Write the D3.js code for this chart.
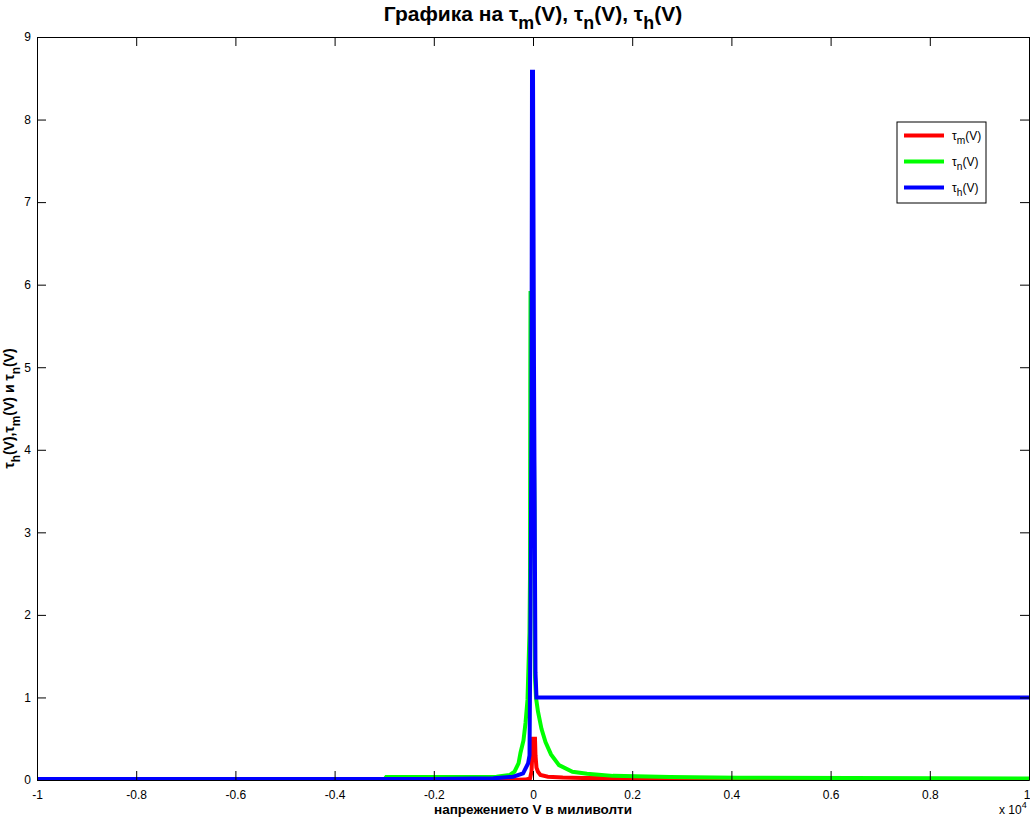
<!DOCTYPE html>
<html>
<head>
<meta charset="utf-8">
<script src="https://cdn.jsdelivr.net/npm/d3@7/dist/d3.min.js"></script>
<style>
  body { margin: 0; background: #fff; }
  svg { display: block; font-family: "Liberation Sans", Arial, sans-serif; }
  .tick text { font-size: 12px; fill: #000; }
</style>
</head>
<body>
<svg width="1030" height="821"></svg>
<script>
// voltage in mV, tau values
let tauM = [
  [-10000, 0], [-500, 0], [-150, 0.005], [-60, 0.02], [-30, 0.1], [-15, 0.3],
  [0, 0.5], [40, 0.5], [50, 0.3], [70, 0.15], [100, 0.1], [150, 0.06],
  [300, 0.04], [600, 0.03], [1000, 0.025], [2000, 0.02], [3300, 0.015], [10000, 0.005]
];
let tauN = [
  [-10000, 0], [-3000, 0], [-2960, 0.035], [-1500, 0.035], [-736, 0.04], [-474, 0.06],
  [-373, 0.1], [-292, 0.2], [-252, 0.33], [-192, 0.48], [-151, 0.69], [-111, 0.97],
  [-91, 1.37], [-71, 1.78], [-60, 2.5], [-55, 4.7], [-50, 5.9], [-35, 5.9],
  [0, 5.0], [20, 3.9], [30, 3.3], [35, 1.8], [40, 1.25], [60, 1.0], [100, 0.83],
  [171, 0.62], [252, 0.46], [363, 0.31], [524, 0.18], [796, 0.1], [1089, 0.075],
  [1613, 0.05], [2762, 0.035], [4133, 0.028], [8200, 0.02], [10000, 0.018]
];
let tauH = [
  [-10000, 0.012], [-2000, 0.012], [-800, 0.02], [-400, 0.04], [-200, 0.08],
  [-100, 0.2], [-70, 0.3], [-50, 2.0], [-30, 4.5], [-20, 8.58], [0, 8.58],
  [20, 5.0], [40, 2.5], [50, 1.3], [70, 1.0], [10000, 1.0]
];
let series = [
  { name: 'm', color: '#ff0000', values: tauM },
  { name: 'n', color: '#00ff00', values: tauN },
  { name: 'h', color: '#0000ff', values: tauH }
];
let xTicks = [-10000, -8000, -6000, -4000, -2000, 0, 2000, 4000, 6000, 8000, 10000];
let yTicks = [0, 1, 2, 3, 4, 5, 6, 7, 8, 9];

let svg = d3.select('svg');
let plotLeft = 37, plotRight = 1029, plotTop = 37, plotBottom = 780;

let x = d3.scaleLinear().domain([-10000, 10000]).range([plotLeft, plotRight]);
let y = d3.scaleLinear().domain([0, 9]).range([plotBottom, plotTop]);

svg.append('clipPath').attr('id', 'clip')
  .append('rect').attr('x', plotLeft).attr('y', plotTop)
  .attr('width', plotRight - plotLeft).attr('height', plotBottom - plotTop);

let line = d3.line().x(d => x(d[0])).y(d => y(d[1]));

let plot = svg.append('g').attr('clip-path', 'url(#clip)');
plot.selectAll('path')
  .data(series)
  .enter()
  .append('path')
  .attr('d', d => line(d.values))
  .attr('fill', 'none')
  .attr('stroke', d => d.color)
  .attr('stroke-width', 4)
  .attr('stroke-linejoin', 'miter');

// plain hyphen for negatives, like the original
let fmt = d => String(+(d / 10000).toFixed(1));

// axes, ticks pointing inward
let xAxis = svg.append('g').attr('transform', translate(0, plotBottom))
  .call(d3.axisBottom(x).tickValues(xTicks).tickFormat(fmt).tickSizeInner(-9).tickSizeOuter(0).tickPadding(10));
xAxis.selectAll('.tick text').filter(d => d === 10000)
  .attr('text-anchor', 'end').attr('dx', 1);
svg.append('g').attr('transform', translate(0, plotTop))
  .call(d3.axisTop(x).tickValues(xTicks).tickFormat('').tickSizeInner(-9).tickSizeOuter(0));
svg.append('g').attr('transform', translate(plotLeft, 0))
  .call(d3.axisLeft(y).tickValues(yTicks).tickSizeInner(-9).tickSizeOuter(0).tickPadding(6));
svg.append('g').attr('transform', translate(plotRight, 0))
  .call(d3.axisRight(y).tickValues(yTicks).tickFormat('').tickSizeInner(-9).tickSizeOuter(0));

svg.selectAll('.domain').attr('stroke', '#000').attr('stroke-width', 1);
svg.selectAll('.tick line').attr('stroke', '#000');

// exponent label
let exp = svg.append('text').attr('x', 999).attr('y', 814).attr('font-size', 12);
exp.append('tspan').text('x 10');
exp.append('tspan').attr('dy', -6).attr('font-size', 9).text('4');

// tau label with subscript
function tauText(sel, sub, size) {
  sel.append('tspan').text('\u03c4');
  sel.append('tspan').attr('dy', size * 0.4).attr('font-size', size * 0.85).text(sub);
  sel.append('tspan').attr('dy', -size * 0.4).text('(V)');
}

// title
let title = svg.append('text')
  .attr('x', (plotLeft + plotRight) / 2).attr('y', 21)
  .attr('text-anchor', 'middle')
  .attr('font-size', 21).attr('font-weight', 'bold');
title.append('tspan').text('Графика на ');
tauText(title, 'm', 21);
title.append('tspan').text(', ');
tauText(title, 'n', 21);
title.append('tspan').text(', ');
tauText(title, 'h', 21);

// x label
svg.append('text')
  .attr('x', (plotLeft + plotRight) / 2).attr('y', 814)
  .attr('text-anchor', 'middle')
  .attr('font-size', 13.5).attr('font-weight', 'bold')
  .text('напрежението V в миливолти');

// y label
let yl = svg.append('text')
  .attr('transform', `translate(14,${(plotTop + plotBottom) / 2}) rotate(-90)`)
  .attr('text-anchor', 'middle')
  .attr('font-size', 14).attr('font-weight', 'bold');
tauText(yl, 'h', 14);
yl.append('tspan').text(',');
tauText(yl, 'm', 14);
yl.append('tspan').text(' и ');
tauText(yl, 'n', 14);

// legend
let legend = svg.append('g').attr('transform', translate(897, 122));
legend.append('rect').attr('width', 89).attr('height', 81)
  .attr('fill', '#fff').attr('stroke', '#000');
let items = legend.selectAll('g.item')
  .data(series)
  .enter()
  .append('g')
  .attr('transform', (d, i) => translate(0, 13.5 + i * 26));
items.append('line').attr('x1', 7).attr('x2', 47)
  .attr('stroke', d => d.color).attr('stroke-width', 4);
items.each(function (d) {
  let t = d3.select(this).append('text').attr('x', 55).attr('y', 4).attr('font-size', 12);
  tauText(t, d.name, 12);
});

function translate(x, y) {
  return `translate(${x},${y})`;
}
</script>
</body>
</html>
